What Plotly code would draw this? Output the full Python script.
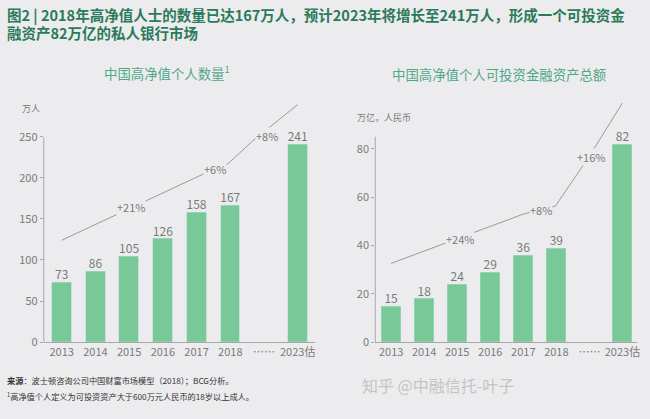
import plotly.graph_objects as go
from plotly.subplots import make_subplots

# Data
years = ['2013', '2014', '2015', '2016', '2017', '2018', '……', '2023估']
hnwi_count = [73, 86, 105, 126, 158, 167, None, 241]          # 万人
hnwi_assets = [15, 18, 24, 29, 36, 39, None, 82]              # 万亿，人民币

# CAGR trend lines (x = category index, y = axis units)
count_trend_x = [0, 4.54, 4.93, 5.67, 7.0]
count_trend_y = [124, 211, 217, 245, 289]
count_cagr_labels = ['+21%', '+6%', '+8%']
count_cagr_x = [2.05, 4.54, 6.08]
count_cagr_y = [164, 211, 251]

asset_trend_x = [0, 4.0, 4.97, 6.0, 7.0]
asset_trend_y = [32.6, 53.0, 56.3, 77.0, 99.0]
asset_cagr_labels = ['+24%', '+8%', '+16%']
asset_cagr_x = [2.07, 4.55, 6.04]
asset_cagr_y = [42.7, 54.5, 76.5]

bg = '#ececee'
green = '#79c898'
grey_text = '#7a7a7a'
axis_grey = '#a8a8a8'
font_family = 'Noto Sans CJK SC'

fig = make_subplots(rows=1, cols=2)

for col, vals in [(1, hnwi_count), (2, hnwi_assets)]:
    fig.add_trace(go.Bar(x=years, y=vals, marker_color=green, width=0.59), row=1, col=col)
    # value labels just above each bar
    lx = [c for c, v in zip(years, vals) if v is not None]
    ly = [v for v in vals if v is not None]
    fig.add_trace(go.Scatter(x=lx, y=ly, mode='text', text=[str(v) for v in ly],
                             textposition='top center', cliponaxis=False,
                             textfont=dict(color=grey_text, size=12)), row=1, col=col)

# trend lines
fig.add_trace(go.Scatter(x=count_trend_x, y=count_trend_y, mode='lines',
                         line=dict(color='#9a9a9a', width=1), xaxis='x3', yaxis='y'))
fig.add_trace(go.Scatter(x=asset_trend_x, y=asset_trend_y, mode='lines',
                         line=dict(color='#9a9a9a', width=1), xaxis='x4', yaxis='y2'))

for lab, xx, yy in zip(count_cagr_labels, count_cagr_x, count_cagr_y):
    fig.add_annotation(x=xx, y=yy, xref='x3', yref='y', text=lab, showarrow=False,
                       font=dict(color=grey_text, size=11), bgcolor=bg, borderpad=0)
for lab, xx, yy in zip(asset_cagr_labels, asset_cagr_x, asset_cagr_y):
    fig.add_annotation(x=xx, y=yy, xref='x4', yref='y2', text=lab, showarrow=False,
                       font=dict(color=grey_text, size=11), bgcolor=bg, borderpad=0)

# vertical axis lines that stop below the top of the plot
fig.add_shape(type='line', xref='x domain', yref='y', x0=0, x1=0, y0=0, y1=249,
              line=dict(color=axis_grey, width=1))
fig.add_shape(type='line', xref='x2 domain', yref='y2', x0=0, x1=0, y0=0, y1=85,
              line=dict(color=axis_grey, width=1))

xcommon = dict(type='category', showline=True, linecolor=axis_grey, linewidth=1,
               ticks='', showgrid=False, zeroline=False,
               tickfont=dict(color=grey_text, size=11))
ycommon = dict(showline=False, showgrid=False, zeroline=False, ticks='outside',
               ticklen=3, tickcolor=axis_grey, tickfont=dict(color=grey_text, size=11))

fig.update_layout(
    xaxis=dict(xcommon, domain=[0.0677, 0.4862], range=[-0.53, 7.5]),
    xaxis2=dict(xcommon, domain=[0.58, 0.985], range=[-0.48, 7.45]),
    xaxis3=dict(domain=[0.0677, 0.4862], range=[-0.53, 7.5], overlaying='x',
                visible=False, anchor='y'),
    xaxis4=dict(domain=[0.58, 0.985], range=[-0.48, 7.45], overlaying='x2',
                visible=False, anchor='y2'),
    yaxis=dict(ycommon, domain=[0.1695, 0.7613], range=[0, 296.6],
               tickvals=[0, 50, 100, 150, 200, 250]),
    yaxis2=dict(ycommon, domain=[0.1695, 0.7613], range=[0, 100.9],
                tickvals=[0, 20, 40, 60, 80]),
    width=650, height=419,
    margin=dict(l=0, r=0, t=0, b=0),
    paper_bgcolor=bg, plot_bgcolor=bg,
    showlegend=False, bargap=0,
    font=dict(family=font_family, color=grey_text),
)


def paper_text(x_px, y_px, text, size, color, xanchor='left'):
    fig.add_annotation(x=x_px / 650, y=1 - y_px / 419, xref='paper', yref='paper',
                       xanchor=xanchor, yanchor='middle', text=text, showarrow=False,
                       font=dict(size=size, color=color))


# headline
paper_text(5, 14.5, '<b>图2 | 2018年高净值人士的数量已达167万人，预计2023年将增长至241万人，形成一个可投资金</b>',
           14.5, '#2b7a5a')
paper_text(5, 33.5, '<b>融资产82万亿的私人银行市场</b>', 14.5, '#2b7a5a')

# chart titles
paper_text(168, 74, '中国高净值个人数量<sup>1</sup>', 13.4, '#4fa787', 'center')
paper_text(502, 75, '中国高净值个人可投资金融资产总额', 13.4, '#4fa787', 'center')

# units
paper_text(20, 110, '万人', 9, grey_text)
paper_text(357, 119, '万亿，人民币', 9, grey_text)

# footer
paper_text(5, 386, '<b>来源</b>：波士顿咨询公司中国财富市场模型（2018）；BCG分析。', 8.2, '#333333')
paper_text(5, 403, '<sup>1</sup>高净值个人定义为可投资资产大于600万元人民币的18岁以上成人。', 8.2, '#333333')
paper_text(362, 392, '知乎 @中融信托-叶子', 16, '#c4c4c4')

fig.write_html('out.html', config={'displayModeBar': False},
               post_script="document.body.style.margin='0';document.body.style.overflow='hidden';")
